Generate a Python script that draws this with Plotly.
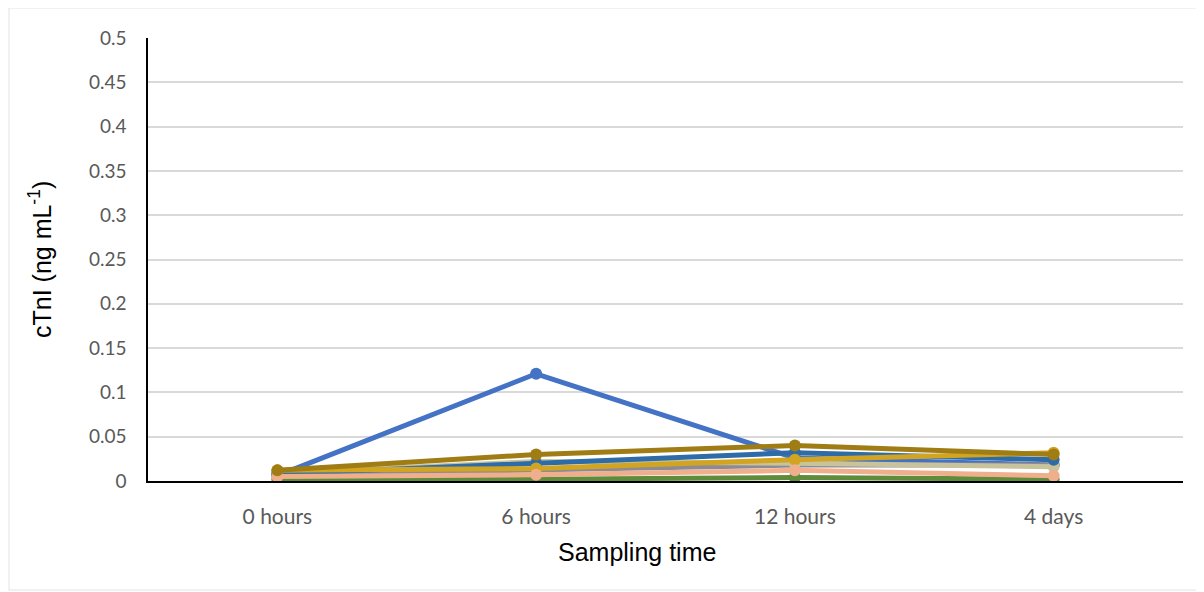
import plotly.graph_objects as go

categories = ["0 hours", "6 hours", "12 hours", "4 days"]
y_ticks = [0, 0.05, 0.1, 0.15, 0.2, 0.25, 0.3, 0.35, 0.4, 0.45, 0.5]
y_tick_text = ["0", "0.05", "0.1", "0.15", "0.2", "0.25", "0.3", "0.35", "0.4", "0.45", "0.5"]

green = [0.002, 0.002, 0.004, 0.002]
salmon = [0.005, 0.007, 0.012, 0.006]
gray = [0.007, 0.012, 0.018, 0.018]
khaki = [0.009, 0.022, 0.020, 0.016]
steel_blue = [0.008, 0.020, 0.032, 0.024]
yellow_gold = [0.012, 0.014, 0.024, 0.032]
blue = [0.006, 0.121, 0.026, 0.018]
dark_gold = [0.012, 0.030, 0.040, 0.030]

series = [
    ("S1", blue, "#4472C4"),
    ("S2", green, "#5E8C3A"),
    ("S3", gray, "#8E8A94"),
    ("S4", khaki, "#C9C39C"),
    ("S5", steel_blue, "#2E6CA8"),
    ("S6", yellow_gold, "#D1A521"),
    ("S7", salmon, "#EFAF8C"),
    ("S8", dark_gold, "#A07C14"),
]

fig = go.Figure()
for name, vals, col in series:
    fig.add_trace(go.Scatter(
        x=categories, y=vals, name=name, mode="lines+markers",
        line=dict(color=col, width=5),
        marker=dict(color=col, size=12),
        showlegend=False,
    ))

# page body has an 8px margin: figure spans screen x 8..1204, y 8..592
PL, PT, PR, PB = 148, 38, 1183, 481  # plot area in screen pixels
W, H = 1196, 584
pw, ph = PR - PL, PB - PT


def px(x):
    return (x - PL) / pw


def py(y):
    return (PB - y) / ph


x_tick_font = dict(family="Lato, Open Sans, sans-serif", size=21, color="#595959")
y_tick_font = dict(family="Lato, Open Sans, sans-serif", size=19, color="#595959")
title_font = dict(family="Liberation Sans, Arial, sans-serif", size=25, color="black")

fig.update_layout(
    width=W, height=H,
    margin=dict(l=PL - 8, r=W - (PR - 8), t=PT - 8, b=H - (PB - 8)),
    paper_bgcolor="white", plot_bgcolor="white",
    xaxis=dict(
        type="category", range=[-0.5, 3.5],
        showgrid=False, showline=True, linecolor="black", linewidth=1.5,
        ticks="", ticklabelstandoff=16,
        tickfont=x_tick_font,
        zeroline=False,
    ),
    yaxis=dict(
        range=[0, 0.5], tickvals=y_ticks, ticktext=y_tick_text,
        showgrid=True, gridcolor="#D9D9D9", gridwidth=1.5,
        showline=True, linecolor="black", linewidth=1.5,
        ticks="", ticklabelstandoff=16,
        tickfont=y_tick_font,
        zeroline=False,
    ),
    annotations=[
        dict(text="cTnI (ng mL<sup>-1</sup>)", x=px(40), y=py(260), xref="paper", yref="paper",
             xanchor="center", yanchor="middle",
             showarrow=False, textangle=-90, font=title_font),
        dict(text="Sampling time", x=px(637), y=py(552), xref="paper", yref="paper",
             xanchor="center", yanchor="middle",
             showarrow=False, font=title_font),
    ],
    shapes=[
        dict(type="rect", xref="paper", yref="paper",
             x0=px(9), x1=px(1201), y0=py(590), y1=py(8),
             line=dict(color="#E3E3E3", width=1), layer="below"),
    ],
)

fig.write_html("out.html")
